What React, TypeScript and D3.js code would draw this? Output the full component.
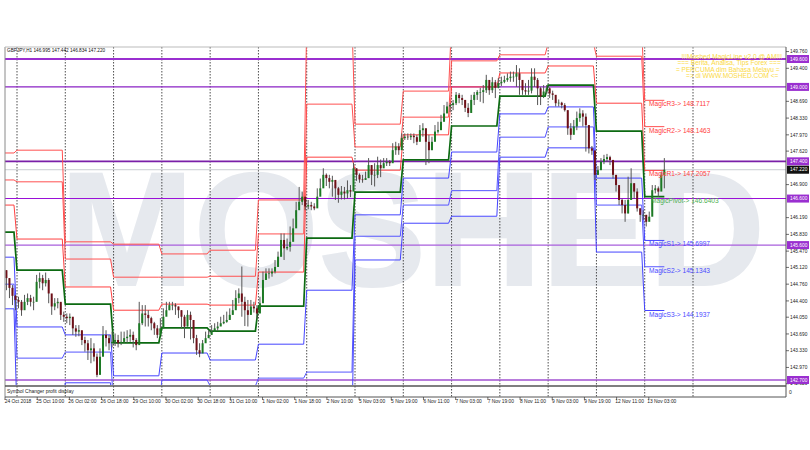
import * as d3 from "d3";

// hourly-ish samples, 16 per daily separator, first 4 before the 24 Oct line
const closes = [
  145.06, 144.89, 144.68, 144.51,
  144.42, 144.38, 144.2, 144.38, 144.46, 144.38, 144.38, 144.81, 144.89, 144.78, 144.85, 144.56, 144.28, 144.35, 144.38, 144.1,
  144.06, 144.03, 144.06, 143.81, 143.74, 143.77, 143.56, 143.49, 143.34, 143.38, 143.2, 142.81, 143.2, 143.67, 143.6, 143.49,
  143.52, 143.56, 143.49, 143.52, 143.6, 143.63, 143.67, 143.56, 143.45, 143.92, 144.13, 144.1, 144.03, 143.92, 143.81, 143.67,
  143.81, 144.06, 144.2, 144.31, 144.31, 144.28, 144.2, 144.06, 143.85, 144.1, 143.99, 143.6, 143.34, 143.27, 143.49, 143.6,
  143.67, 143.74, 143.81, 143.85, 143.92, 143.95, 143.99, 144.1, 144.2, 144.46, 144.56, 144.38, 144.2, 144.1, 144.28, 144.24,
  144.13, 144.35, 144.85, 144.99, 144.99, 145.03, 145.13, 145.35, 145.71, 145.53, 145.56, 145.67, 145.96, 146.35, 146.53, 146.64,
  146.43, 146.46, 146.43, 146.39, 146.64, 146.82, 147.11, 147.04, 146.96, 147.0, 146.82, 146.68, 146.75, 146.71, 146.78, 146.75,
  147.25, 147.11, 147.01, 147.0, 147.04, 147.32, 147.11, 147.11, 147.32, 147.25, 147.36, 147.39, 147.36, 147.64, 147.72, 147.64,
  147.9, 147.93, 147.92, 147.95, 147.92, 147.82, 148.07, 148.11, 147.82, 147.64, 147.82, 148.04, 148.07, 148.25, 148.43, 148.58,
  148.61, 148.65, 148.83, 148.76, 148.72, 148.55, 148.44, 148.72, 148.83, 148.89, 148.89, 148.93, 149.15, 148.93, 149.1, 148.98,
  149.08, 149.11, 149.15, 149.19, 149.22, 149.22, 149.29, 149.15, 148.93, 148.9, 148.92, 149.22, 149.15, 148.97, 148.79, 148.9,
  148.97, 148.86, 148.83, 148.65, 148.66, 148.61, 148.5, 148.11, 147.97, 148.15, 148.33, 148.43, 148.36, 148.18, 147.68, 147.63,
  147.11, 147.21, 147.39, 147.45, 147.49, 147.43, 147.11, 146.89, 146.57, 146.46, 146.28, 146.57, 146.93, 146.75, 146.39, 146.25,
  146.25, 146.1, 146.21, 146.78, 146.82, 146.75, 147.11, 147.22,
];
const highs = [
  145.24, 145.06, 144.89, 144.74,
  144.53, 144.49, 144.42, 144.53, 144.56, 144.53, 144.49, 144.96, 145.01, 144.96, 145.01, 144.89, 144.46, 144.46, 144.46, 144.35,
  144.17, 144.13, 144.13, 143.99, 143.88, 143.88, 143.74, 143.63, 143.56, 143.6, 143.49, 143.27, 143.38, 143.86, 143.77, 143.67,
  143.74, 143.7, 143.67, 143.74, 143.74, 143.77, 143.79, 143.74, 143.6, 144.38, 144.31, 144.31, 144.2, 144.06, 143.95, 143.88,
  144.03, 144.24, 144.38, 144.38, 144.38, 144.35, 144.28, 144.2, 144.1, 144.2, 144.17, 143.85, 143.67, 143.49, 143.56, 143.74,
  143.77, 143.88, 143.92, 143.95, 144.06, 144.1, 144.17, 144.24, 144.42, 144.63, 144.67, 145.14, 144.49, 144.42, 144.42, 144.38,
  144.31, 144.49, 145.03, 145.1, 145.1, 145.1, 145.28, 145.46, 145.85, 145.85, 145.74, 146.0, 146.17, 146.53, 146.85, 146.75,
  146.6, 146.57, 146.53, 146.5, 146.82, 147.03, 147.25, 147.14, 147.11, 147.09, 147.0, 146.85, 146.87, 146.85, 146.99, 146.89,
  147.37, 147.25, 147.14, 147.11, 147.18, 147.47, 147.32, 147.36, 147.5, 147.44, 147.47, 147.47, 147.43, 147.79, 147.82, 147.79,
  148.0, 148.0, 148.0, 148.0, 148.0, 147.97, 148.18, 148.22, 148.11, 147.97, 147.93, 148.18, 148.25, 148.4, 148.61, 148.68,
  148.65, 148.72, 148.89, 148.87, 148.83, 148.72, 148.65, 148.83, 148.89, 148.93, 148.98, 149.04, 149.26, 149.04, 149.21, 149.15,
  149.19, 149.22, 149.24, 149.29, 149.33, 149.33, 149.47, 149.4, 149.11, 149.08, 149.15, 149.4, 149.4, 149.19, 149.0, 149.04,
  149.04, 148.99, 148.92, 148.73, 148.73, 148.68, 148.65, 148.5, 148.22, 148.29, 148.47, 148.54, 148.5, 148.43, 148.18, 147.73,
  147.64, 147.3, 147.47, 147.54, 147.56, 147.52, 147.43, 147.07, 146.82, 146.6, 146.57, 147.07, 147.25, 146.93, 146.82, 146.39,
  146.35, 146.25, 146.32, 146.89, 146.89, 146.86, 147.18, 147.47,
];
const lows = [
  144.85, 144.63, 144.46, 144.31,
  144.2, 144.24, 144.08, 144.28, 144.31, 144.28, 144.2, 144.56, 144.67, 144.63, 144.71, 144.35, 144.1, 144.2, 144.24, 143.99,
  143.95, 143.92, 143.88, 143.67, 143.63, 143.64, 143.45, 143.31, 143.13, 143.06, 143.1, 142.76, 142.99, 143.38, 143.42, 143.34,
  143.4, 143.43, 143.4, 143.45, 143.5, 143.5, 143.52, 143.4, 143.34, 143.77, 143.88, 143.85, 143.85, 143.77, 143.67, 143.6,
  143.74, 143.92, 144.13, 144.2, 144.2, 144.1, 144.03, 143.81, 143.6, 143.85, 143.57, 143.49, 143.24, 143.19, 143.38, 143.56,
  143.6, 143.67, 143.74, 143.76, 143.86, 143.9, 143.93, 144.0, 144.1, 144.28, 144.35, 144.06, 143.86, 143.85, 144.1, 144.15,
  144.02, 144.17, 144.42, 144.88, 144.88, 144.92, 144.99, 145.17, 145.35, 145.28, 145.49, 145.46, 145.85, 146.21, 146.43, 146.46,
  146.35, 146.37, 146.35, 146.35, 146.57, 146.78, 146.96, 146.87, 146.82, 146.64, 146.57, 146.51, 146.58, 146.58, 146.6, 146.63,
  147.14, 146.98, 146.94, 146.94, 147.0, 147.04, 146.89, 146.86, 147.04, 147.06, 147.29, 147.3, 147.3, 147.5, 147.54, 147.54,
  147.8, 147.86, 147.86, 147.86, 147.79, 147.75, 147.93, 147.93, 147.32, 147.36, 147.64, 147.93, 148.0, 148.11, 148.29, 148.47,
  148.46, 148.5, 148.61, 148.65, 148.61, 148.46, 148.35, 148.5, 148.61, 148.72, 148.68, 148.65, 148.87, 148.83, 148.87, 148.76,
  148.97, 149.02, 149.08, 149.11, 149.11, 149.11, 149.0, 148.83, 148.83, 148.83, 148.83, 148.86, 149.0, 148.61, 148.61, 148.76,
  148.86, 148.76, 148.72, 148.58, 148.58, 148.54, 148.47, 147.97, 147.86, 148.04, 148.07, 148.25, 148.15, 147.61, 147.57, 147.54,
  147.0, 147.11, 147.29, 147.34, 147.39, 147.32, 147.03, 146.75, 146.46, 146.28, 146.1, 146.28, 146.64, 146.6, 146.32, 146.1,
  146.14, 146.0, 146.14, 146.32, 146.71, 146.64, 146.82, 146.82,
];

// daily levels, one value per day
const pivot = [145.88, 145.06, 144.33, 143.5, 143.82, 143.75, 144.29, 145.75, 146.74, 147.43, 148.16, 148.8, 149.04, 148.05, 146.6403];
const r1 = [146.46, 145.73, 144.7, 144.2, 144.33, 144.31, 145.02, 147.49, 147.21, 147.97, 149.0, 149.3, 149.45, 148.65, 147.2057];
const r2 = [147.0, 146.96, 145.3, 144.91, 144.91, 144.93, 145.84, 148.63, 147.71, 148.35, 149.56, 149.69, 149.94, 149.66, 148.1463];
const r3 = [147.58, 147.64, 145.67, 145.62, 145.41, 145.49, 146.57, 150.37, 148.2, 148.91, 150.4, 150.18, 150.37, 150.27, 148.7117];
const s1 = [145.34, 143.84, 143.67, 142.79, 143.28, 143.13, 143.47, 144.63, 146.25, 147.04, 147.6, 148.42, 148.57, 147.04, 145.6997];
const s2 = [144.76, 143.17, 143.3, 142.07, 142.7, 142.57, 142.74, 142.87, 145.79, 146.46, 146.77, 147.92, 148.14, 146.46, 145.1343];
const s3 = [144.23, 141.95, 142.64, 141.37, 142.18, 141.95, 141.93, 141.73, 145.28, 146.07, 146.22, 147.49, 147.69, 145.45, 144.1937];

const priceTicks = [149.76, 149.4, 148.69, 148.33, 147.97, 147.62, 146.9, 146.19, 145.83, 145.47, 145.12, 144.76, 144.4, 144.05, 143.69, 143.33, 142.97, 142.62];
const hLevels = [149.6, 149.0, 147.4, 146.6, 145.6, 142.7];
const hColors = ["#9a2fd0", "#8a22c4", "#7a1fa8", "#9a10d8", "#a85fdc", "#a050d0"];
const hWidths = [2, 1.4, 1.6, 1.1, 1.2, 1.6];
const dateLabels = [
  "24 Oct 2018", "25 Oct 10:00", "26 Oct 02:00", "26 Oct 18:00", "29 Oct 10:00", "30 Oct 02:00", "30 Oct 18:00", "31 Oct 10:00",
  "1 Nov 02:00", "1 Nov 18:00", "2 Nov 10:00", "5 Nov 03:00", "5 Nov 19:00", "6 Nov 11:00", "7 Nov 03:00", "7 Nov 19:00",
  "8 Nov 11:00", "9 Nov 03:00", "9 Nov 19:00", "12 Nov 11:00", "13 Nov 03:00",
];
const noticeLines = [
  "!!!Moshed MagicLine v2.0 @ AM!!!",
  "=== Berita, Analisa, Tips Forex ===",
  "= PERCUMA dim Bahasa Melayu =",
  "=> di WWW.MOSHED.COM <=",
];
const levelSeries = [
  { name: "MagicR3", values: r3, color: "#ff5050", width: 1 },
  { name: "MagicR2", values: r2, color: "#ff5050", width: 1 },
  { name: "MagicR1", values: r1, color: "#ff4040", width: 1 },
  { name: "MagicPivot", values: pivot, color: "#0c6a12", width: 1.7 },
  { name: "MagicS1", values: s1, color: "#4444ff", width: 1 },
  { name: "MagicS2", values: s2, color: "#5555ff", width: 1 },
  { name: "MagicS3", values: s3, color: "#4444ff", width: 1 },
];

const FONT = "'Liberation Sans', Arial, sans-serif";
const left = 5;
const right = 786;
const top = 47;
const mainBottom = 385;
const bottom = 397;

const x = d3.scaleLinear().domain([0, 224]).range([17, 693]); // 16 samples per day
const hourX = d3.scaleLinear().domain([0, 336]).range([17, 693]);
const y = d3.scaleLinear().domain([142.7, 149.6]).range([380, 59]);
const stepLine = d3.line<[number, number]>().x((d) => x(d[0])).y((d) => y(d[1]));

const levelPath = (values: number[]) => {
  const pts: [number, number][] = [];
  values.forEach((v, k) => {
    const start = k === 0 ? -4 : (k - 1) * 16;
    const end = k === values.length - 1 ? 214.5 : k * 16 - 1;
    pts.push([start, v], [end, v]);
  });
  return stepLine(pts) ?? "";
};

const App = () => {
  const lastClose = closes[closes.length - 1];
  const days = d3.range(0, 15);
  return (
    <svg width={810} height={450} style={{ position: "absolute", left: 0, top: 0, background: "#fff" }} fontFamily={FONT}>
      <defs>
        <clipPath id="plot">
          <rect x={left} y={top} width={right - left} height={mainBottom - top} />
        </clipPath>
      </defs>

      <text x={60} y={285} fontSize={162} fontWeight={700} fill="#e6e9ee" stroke="#e6e9ee" strokeWidth={2} textLength={705} lengthAdjust="spacingAndGlyphs">
        MOSHED
      </text>

      {days.map((d) => (
        <line key={d} x1={x(d * 16)} x2={x(d * 16)} y1={top} y2={bottom} stroke="#222" strokeWidth={0.8} strokeDasharray="1.5 1.5" />
      ))}

      <line x1={left} x2={right} y1={y(lastClose)} y2={y(lastClose)} stroke="#c9cdd2" strokeWidth={1} />

      <g clipPath="url(#plot)">
        {hLevels.map((v, i) => (
          <line key={v} x1={left} x2={right} y1={y(v)} y2={y(v)} stroke={hColors[i]} strokeWidth={hWidths[i]} />
        ))}
        {levelSeries.map((s) => (
          <path key={s.name} d={levelPath(s.values)} fill="none" stroke={s.color} strokeWidth={s.width} />
        ))}
        {closes.map((c, i) => {
          const idx = i - 4;
          const cx = x(idx - 0.5);
          const open = i === 0 ? c : closes[i - 1];
          const up = c >= open;
          return (
            <g key={i}>
              <line x1={cx} x2={cx} y1={y(highs[i])} y2={y(lows[i])} stroke="#555" strokeWidth={1} />
              <rect
                x={cx - 1}
                width={2}
                y={y(Math.max(open, c))}
                height={Math.max(0.6, Math.abs(y(open) - y(c)))}
                fill={up ? "#1c7a24" : "#6e1018"}
              />
            </g>
          );
        })}
      </g>

      {levelSeries.map((s) => {
        const v = s.values[s.values.length - 1];
        const isPivot = s.name === "MagicPivot";
        const color = s.name.startsWith("MagicR") ? "#ff4040" : isPivot ? "#4caf50" : "#4a4aff";
        return (
          <text key={s.name} x={isPivot ? 651 : 649} y={y(v) + 6} fontSize={6.6} fill={color}>
            {`${s.name}-> ${v.toFixed(4)}`}
          </text>
        );
      })}

      {noticeLines.map((t, i) => (
        <text key={t} x={782 - i * 1.2} y={59 + i * 6.3} fontSize={6.6} fill="#fbd93f" textAnchor="end">
          {t}
        </text>
      ))}

      <text x={7} y={52} fontSize={4.7} fill="#111">GBPJPY,H1  146.995 147.442 146.834 147.220</text>

      {/* frame and the empty sub window */}
      <line x1={left} x2={left} y1={top} y2={bottom} stroke="#8a8a8a" strokeWidth={1} />
      <line x1={left} x2={right} y1={top} y2={top} stroke="#bbb" strokeWidth={1} />
      <line x1={left} x2={right} y1={386} y2={386} stroke="#555" strokeWidth={1.6} />
      <line x1={left} x2={right} y1={bottom} y2={bottom} stroke="#555" strokeWidth={1} />
      <line x1={right} x2={right} y1={top} y2={bottom} stroke="#555" strokeWidth={1} />
      <text x={7} y={393} fontSize={5} fill="#222">Symbol Changer profit display</text>
      <text x={789} y={394} fontSize={5} fill="#222">0</text>

      {priceTicks.map((t) => (
        <g key={t}>
          <line x1={right} x2={right + 3} y1={y(t)} y2={y(t)} stroke="#333" strokeWidth={0.7} />
          <text x={790} y={y(t) + 1.7} fontSize={4.8} fill="#222">{t.toFixed(3)}</text>
        </g>
      ))}
      {hLevels.map((v) => (
        <g key={v}>
          <rect x={right + 1} y={y(v) - 4} width={22} height={8} fill="#9a2fd0" />
          <text x={790} y={y(v) + 1.7} fontSize={4.8} fill="#fff">{v.toFixed(3)}</text>
        </g>
      ))}
      <rect x={right + 1} y={y(lastClose) - 4} width={22} height={8} fill="#111" />
      <text x={790} y={y(lastClose) + 1.7} fontSize={4.8} fill="#fff">{lastClose.toFixed(3)}</text>

      {dateLabels.map((t, i) => {
        const cx = hourX(i * 16);
        return (
          <g key={t}>
            <line x1={cx - 12} x2={cx - 12} y1={bottom} y2={bottom + 3} stroke="#333" strokeWidth={0.7} />
            <text x={cx + 1} y={403} fontSize={4.9} fill="#222" textAnchor="middle">{t}</text>
          </g>
        );
      })}
    </svg>
  );
};

export default App;
